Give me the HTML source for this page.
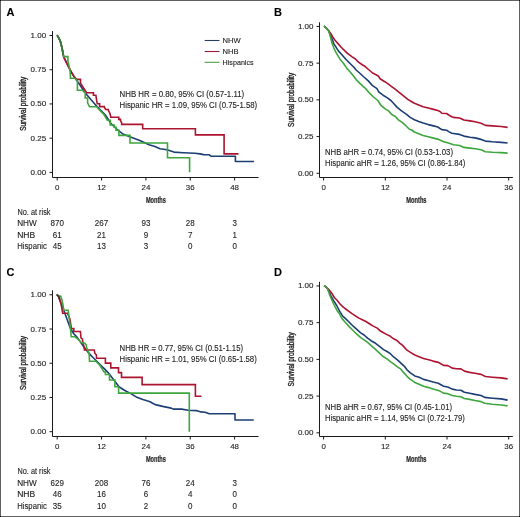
<!DOCTYPE html><html><head><meta charset="utf-8"><style>html,body{margin:0;padding:0;background:#fff;}body{width:520px;height:517px;overflow:hidden;}svg{display:block;will-change:transform;}text{font-family:"Liberation Sans", sans-serif;fill:#1e1e1e;stroke:#1e1e1e;stroke-width:0.12px;}</style></head><body>
<svg width="520" height="517" viewBox="0 0 520 517">
<rect x="0" y="0" width="520" height="517" fill="#fff"/>
<rect x="0.5" y="0.5" width="519" height="516" fill="none" stroke="#606060" stroke-width="1"/>
<path d="M0,0h1v1h-1z M519,0h1v1h-1z M0,516h1v1h-1z M519,516h1v1h-1z" fill="#151515"/>
<text x="6.5" y="16.1" font-size="11" font-weight="bold" style="fill:#000">A</text>
<path d="M52.5,31 V177.5 H258.5" fill="none" stroke="#1a1a1a" stroke-width="1"/>
<path d="M49.5,35.5 H52.5" stroke="#1a1a1a" stroke-width="1"/>
<text x="46.2" y="38.0" font-size="7.9" text-anchor="end" textLength="15.57" lengthAdjust="spacingAndGlyphs">1.00</text>
<path d="M49.5,69.725 H52.5" stroke="#1a1a1a" stroke-width="1"/>
<text x="46.2" y="72.22" font-size="7.9" text-anchor="end" textLength="15.57" lengthAdjust="spacingAndGlyphs">0.75</text>
<path d="M49.5,103.95 H52.5" stroke="#1a1a1a" stroke-width="1"/>
<text x="46.2" y="106.45" font-size="7.9" text-anchor="end" textLength="15.57" lengthAdjust="spacingAndGlyphs">0.50</text>
<path d="M49.5,138.175 H52.5" stroke="#1a1a1a" stroke-width="1"/>
<text x="46.2" y="140.68" font-size="7.9" text-anchor="end" textLength="15.57" lengthAdjust="spacingAndGlyphs">0.25</text>
<path d="M49.5,172.4 H52.5" stroke="#1a1a1a" stroke-width="1"/>
<text x="46.2" y="174.9" font-size="7.9" text-anchor="end" textLength="15.57" lengthAdjust="spacingAndGlyphs">0.00</text>
<path d="M57.2,177.5 V180.5" stroke="#1a1a1a" stroke-width="1"/>
<text x="57.2" y="189.8" font-size="7.9" text-anchor="middle" textLength="4.39" lengthAdjust="spacingAndGlyphs">0</text>
<path d="M101.55,177.5 V180.5" stroke="#1a1a1a" stroke-width="1"/>
<text x="101.55" y="189.8" font-size="7.9" text-anchor="middle" textLength="8.78" lengthAdjust="spacingAndGlyphs">12</text>
<path d="M145.9,177.5 V180.5" stroke="#1a1a1a" stroke-width="1"/>
<text x="145.9" y="189.8" font-size="7.9" text-anchor="middle" textLength="8.78" lengthAdjust="spacingAndGlyphs">24</text>
<path d="M190.25,177.5 V180.5" stroke="#1a1a1a" stroke-width="1"/>
<text x="190.25" y="189.8" font-size="7.9" text-anchor="middle" textLength="8.78" lengthAdjust="spacingAndGlyphs">36</text>
<path d="M234.6,177.5 V180.5" stroke="#1a1a1a" stroke-width="1"/>
<text x="234.6" y="189.8" font-size="7.9" text-anchor="middle" textLength="8.78" lengthAdjust="spacingAndGlyphs">48</text>
<text x="155.9" y="202.6" font-size="9" text-anchor="middle" textLength="20.0" lengthAdjust="spacingAndGlyphs" font-weight="bold" style="stroke-width:0.2px">Months</text>
<text transform="translate(25.8,103.8) rotate(-90)" font-size="8.4" text-anchor="middle" textLength="54" lengthAdjust="spacingAndGlyphs" style="stroke-width:0.35px">Survival probability</text>
<text x="119.6" y="96.8" font-size="8.4" textLength="124.6" lengthAdjust="spacingAndGlyphs">NHB HR = 0.80, 95% CI (0.57-1.11)</text>
<text x="119.6" y="108.0" font-size="8.4" textLength="137.6" lengthAdjust="spacingAndGlyphs">Hispanic HR = 1.09, 95% CI (0.75-1.58)</text>
<text x="17.5" y="214.9" font-size="8.4" textLength="33" lengthAdjust="spacingAndGlyphs">No. at risk</text>
<text x="17.2" y="226.4" font-size="8.4" textLength="19.6" lengthAdjust="spacingAndGlyphs">NHW</text>
<text x="57.2" y="226.4" font-size="8.5" text-anchor="middle" textLength="13.34" lengthAdjust="spacingAndGlyphs">870</text>
<text x="101.5" y="226.4" font-size="8.5" text-anchor="middle" textLength="13.34" lengthAdjust="spacingAndGlyphs">267</text>
<text x="145.9" y="226.4" font-size="8.5" text-anchor="middle" textLength="8.9" lengthAdjust="spacingAndGlyphs">93</text>
<text x="190.2" y="226.4" font-size="8.5" text-anchor="middle" textLength="8.9" lengthAdjust="spacingAndGlyphs">28</text>
<text x="234.6" y="226.4" font-size="8.5" text-anchor="middle" textLength="4.45" lengthAdjust="spacingAndGlyphs">3</text>
<text x="17.2" y="237.85" font-size="8.4" textLength="18.0" lengthAdjust="spacingAndGlyphs">NHB</text>
<text x="57.2" y="237.85" font-size="8.5" text-anchor="middle" textLength="8.9" lengthAdjust="spacingAndGlyphs">61</text>
<text x="101.5" y="237.85" font-size="8.5" text-anchor="middle" textLength="8.9" lengthAdjust="spacingAndGlyphs">21</text>
<text x="145.9" y="237.85" font-size="8.5" text-anchor="middle" textLength="4.45" lengthAdjust="spacingAndGlyphs">9</text>
<text x="190.2" y="237.85" font-size="8.5" text-anchor="middle" textLength="4.45" lengthAdjust="spacingAndGlyphs">7</text>
<text x="234.6" y="237.85" font-size="8.5" text-anchor="middle" textLength="4.45" lengthAdjust="spacingAndGlyphs">1</text>
<text x="17.2" y="249.3" font-size="8.4" textLength="29.6" lengthAdjust="spacingAndGlyphs">Hispanic</text>
<text x="57.2" y="249.3" font-size="8.5" text-anchor="middle" textLength="8.9" lengthAdjust="spacingAndGlyphs">45</text>
<text x="101.5" y="249.3" font-size="8.5" text-anchor="middle" textLength="8.9" lengthAdjust="spacingAndGlyphs">13</text>
<text x="145.9" y="249.3" font-size="8.5" text-anchor="middle" textLength="4.45" lengthAdjust="spacingAndGlyphs">3</text>
<text x="190.2" y="249.3" font-size="8.5" text-anchor="middle" textLength="4.45" lengthAdjust="spacingAndGlyphs">0</text>
<text x="234.6" y="249.3" font-size="8.5" text-anchor="middle" textLength="4.45" lengthAdjust="spacingAndGlyphs">0</text>
<path d="M204.7,40.5 H219.5" stroke="#273f62" stroke-width="1.1"/>
<text x="222.6" y="43.1" font-size="7.6">NHW</text>
<path d="M204.7,51.5 H219.5" stroke="#9a1d36" stroke-width="1.1"/>
<text x="222.6" y="53.8" font-size="7.6">NHB</text>
<path d="M204.7,62.3 H219.5" stroke="#4c9c4c" stroke-width="1.1"/>
<text x="222.6" y="64.6" font-size="7.6" textLength="31.0" lengthAdjust="spacingAndGlyphs">Hispanics</text>
<polyline points="57.2,35.4 58.6,37.6 60.1,40.6 61.9,47.4 63.6,56.4 67.0,63.5 70.0,70.0 73.0,75.0 76.0,79.5 80.0,85.0 84.7,92.2 90.0,98.5 97.2,106.8 101.0,110.6 105.0,114.5 108.0,119.0 110.8,123.2 116.6,129.0 122.4,133.7 130.5,137.1 139.8,140.6 149.1,144.7 154.9,146.4 160.0,148.7 167.0,149.8 173.9,152.1 183.2,152.7 194.8,153.3 200.0,153.9 203.5,154.6 209.3,154.8 211.0,156.2 235.4,156.2 235.4,161.5 254.0,161.5" fill="none" stroke="#1d3e74" stroke-width="1.6" stroke-linejoin="round"/>
<path d="M57.2,35.4 L58.6,37.6 L60.1,40.6 L61.9,47.4 L63.6,56.4 L63.9,57.7 L67.7,65.5 L70.8,70.9 L73.9,76.3 L76.6,79.4 H80.5 V83.3 L84,88.7 L86.6,92.7 H93.4 V95.3 H95.9 L96.7,100.8 L97.3,103.7 H99.6 V106.6 H104.3 V107.2 L105.7,109.5 H108.3 V110.4 L109.8,113 L110.7,116.5 V117.3 H118.8 V119.4 H120.5 V120.5 L121.7,122.9 V124.4 H142.7 V128.8 H195.4 V134.9 H224.1 V153.9 H238.5" fill="none" stroke="#ad1430" stroke-width="1.6"/>
<path d="M57.2,35.4 L58.6,37.6 L60.1,40.6 L61.9,47.4 L63.6,56.6 H67.9 V61 L70,70 L70.4,76.3 V78.2 H74.7 L77.4,80.6 V90.3 H82.3 L85.2,92.7 V98 H87.6 V102.9 L89.5,106.8 H96.8 L100.1,110.6 L104,114.5 L107.3,120.3 H110.2 V125 H114.3 V127.3 H116 V130.2 H118.9 V135.4 H130 V143 H167.5 V157.7 H189.6 V172.2" fill="none" stroke="#3ea63e" stroke-width="1.6"/>
<path d="M57.2,35.4 L58.6,37.6 L60.1,40.6 L61.9,47.4 L63.2,54.2" fill="none" stroke="#3a7a3c" stroke-width="1.7" stroke-linecap="round"/>
<text x="274.1" y="16.0" font-size="11" font-weight="bold" style="fill:#000">B</text>
<path d="M319.5,22.3 V177.5 H512.9" fill="none" stroke="#1a1a1a" stroke-width="1"/>
<path d="M316.5,26.45 H319.5" stroke="#1a1a1a" stroke-width="1"/>
<text x="313.5" y="28.95" font-size="7.9" text-anchor="end" textLength="15.57" lengthAdjust="spacingAndGlyphs">1.00</text>
<path d="M316.5,63.16 H319.5" stroke="#1a1a1a" stroke-width="1"/>
<text x="313.5" y="65.66" font-size="7.9" text-anchor="end" textLength="15.57" lengthAdjust="spacingAndGlyphs">0.75</text>
<path d="M316.5,99.88 H319.5" stroke="#1a1a1a" stroke-width="1"/>
<text x="313.5" y="102.38" font-size="7.9" text-anchor="end" textLength="15.57" lengthAdjust="spacingAndGlyphs">0.50</text>
<path d="M316.5,136.59 H319.5" stroke="#1a1a1a" stroke-width="1"/>
<text x="313.5" y="139.09" font-size="7.9" text-anchor="end" textLength="15.57" lengthAdjust="spacingAndGlyphs">0.25</text>
<path d="M316.5,173.3 H319.5" stroke="#1a1a1a" stroke-width="1"/>
<text x="313.5" y="175.8" font-size="7.9" text-anchor="end" textLength="15.57" lengthAdjust="spacingAndGlyphs">0.00</text>
<path d="M323.6,177.5 V180.5" stroke="#1a1a1a" stroke-width="1"/>
<text x="323.6" y="189.6" font-size="7.9" text-anchor="middle" textLength="4.39" lengthAdjust="spacingAndGlyphs">0</text>
<path d="M385.3,177.5 V180.5" stroke="#1a1a1a" stroke-width="1"/>
<text x="385.3" y="189.6" font-size="7.9" text-anchor="middle" textLength="8.78" lengthAdjust="spacingAndGlyphs">12</text>
<path d="M447.0,177.5 V180.5" stroke="#1a1a1a" stroke-width="1"/>
<text x="447.0" y="189.6" font-size="7.9" text-anchor="middle" textLength="8.78" lengthAdjust="spacingAndGlyphs">24</text>
<path d="M508.7,177.5 V180.5" stroke="#1a1a1a" stroke-width="1"/>
<text x="508.7" y="189.6" font-size="7.9" text-anchor="middle" textLength="8.78" lengthAdjust="spacingAndGlyphs">36</text>
<text x="416.4" y="202.7" font-size="9" text-anchor="middle" textLength="20.3" lengthAdjust="spacingAndGlyphs" font-weight="bold" style="stroke-width:0.2px">Months</text>
<text transform="translate(293.6,99.9) rotate(-90)" font-size="8.4" text-anchor="middle" textLength="54" lengthAdjust="spacingAndGlyphs" style="stroke-width:0.35px">Survival probability</text>
<text x="325.0" y="154.5" font-size="8.4" textLength="128.0" lengthAdjust="spacingAndGlyphs">NHB aHR = 0.74, 95% CI (0.53-1.03)</text>
<text x="325.0" y="165.6" font-size="8.4" textLength="140.4" lengthAdjust="spacingAndGlyphs">Hispanic aHR = 1.26, 95% CI (0.86-1.84)</text>
<polyline points="324.1,26.1 326.2,28.0 328.3,30.3 329.9,34.0 331.0,36.5 332.2,39.2 333.9,43.8 336.0,47.2 338.5,51.1 341.7,54.5 345.8,59.2 349.8,63.2 353.9,67.3 356.1,70.0 359.6,73.0 363.9,77.0 368.3,80.9 372.6,85.7 377.0,88.7 378.7,91.8 383.1,95.2 387.4,97.9 390.9,100.5 393.7,103.5 397.2,107.4 401.5,110.9 405.9,113.9 410.2,117.4 414.4,119.7 418.7,121.4 423.1,123.0 428.3,124.6 433.5,125.9 437.8,127.0 440.0,128.5 441.8,129.6 446.6,130.2 448.7,131.6 451.8,133.3 453.5,133.5 459.6,134.4 463.9,136.1 470.0,137.2 475.2,137.9 481.1,139.4 485.4,141.1 492.4,141.8 501.1,142.4 507.6,143.0" fill="none" stroke="#1d3e74" stroke-width="1.6" stroke-linejoin="round"/>
<polyline points="324.1,26.1 326.2,28.0 328.3,30.3 330.0,32.5 331.5,34.7 333.2,37.8 335.0,40.3 337.8,43.4 341.2,47.2 345.1,51.1 347.5,53.3 352.2,56.8 355.6,59.2 358.5,62.1 362.6,65.0 364.9,66.3 369.1,70.0 372.6,73.0 377.0,75.2 378.7,76.5 380.0,78.7 384.8,81.7 387.8,83.7 391.3,86.3 394.8,88.9 399.1,92.4 403.5,95.9 407.8,99.4 411.3,101.5 414.4,103.3 418.7,105.0 423.1,106.7 428.3,108.1 433.5,109.4 437.8,110.5 440.0,111.5 441.8,113.3 446.6,113.5 448.7,115.0 451.8,116.8 453.5,117.4 459.6,118.0 463.9,120.0 470.0,120.9 475.2,121.7 481.1,123.3 485.4,125.4 492.4,125.9 501.1,126.5 507.6,127.4" fill="none" stroke="#ad1430" stroke-width="1.6" stroke-linejoin="round"/>
<polyline points="324.1,26.1 326.2,28.0 328.3,30.3 329.4,33.0 330.1,35.7 331.8,42.4 333.6,47.2 335.3,51.1 336.5,53.3 340.0,59.2 343.4,63.2 346.9,68.4 350.0,71.7 353.5,76.1 356.1,79.6 360.4,83.9 364.8,87.8 369.1,92.6 373.5,97.0 377.8,100.5 380.5,104.8 384.8,108.6 388.5,110.9 392.0,114.8 395.4,116.5 398.1,119.6 402.4,122.6 405.9,125.7 409.4,129.2 411.7,130.0 414.4,132.0 418.7,133.7 423.1,135.5 428.3,136.8 433.5,138.1 438.7,139.4 443.1,141.4 450.0,143.5 453.5,144.8 459.6,145.5 463.9,147.4 470.0,148.1 475.2,148.7 481.1,149.8 485.4,151.7 492.4,152.2 501.1,152.6 507.6,153.1" fill="none" stroke="#3ea63e" stroke-width="1.6" stroke-linejoin="round"/>
<text x="6.5" y="275.6" font-size="11" font-weight="bold" style="fill:#000">C</text>
<path d="M52.5,290.3 V436.5 H258.5" fill="none" stroke="#1a1a1a" stroke-width="1"/>
<path d="M49.5,294.8 H52.5" stroke="#1a1a1a" stroke-width="1"/>
<text x="46.2" y="297.3" font-size="7.9" text-anchor="end" textLength="15.57" lengthAdjust="spacingAndGlyphs">1.00</text>
<path d="M49.5,329.02500000000003 H52.5" stroke="#1a1a1a" stroke-width="1"/>
<text x="46.2" y="331.53" font-size="7.9" text-anchor="end" textLength="15.57" lengthAdjust="spacingAndGlyphs">0.75</text>
<path d="M49.5,363.25 H52.5" stroke="#1a1a1a" stroke-width="1"/>
<text x="46.2" y="365.75" font-size="7.9" text-anchor="end" textLength="15.57" lengthAdjust="spacingAndGlyphs">0.50</text>
<path d="M49.5,397.475 H52.5" stroke="#1a1a1a" stroke-width="1"/>
<text x="46.2" y="399.98" font-size="7.9" text-anchor="end" textLength="15.57" lengthAdjust="spacingAndGlyphs">0.25</text>
<path d="M49.5,431.70000000000005 H52.5" stroke="#1a1a1a" stroke-width="1"/>
<text x="46.2" y="434.2" font-size="7.9" text-anchor="end" textLength="15.57" lengthAdjust="spacingAndGlyphs">0.00</text>
<path d="M57.2,436.5 V439.5" stroke="#1a1a1a" stroke-width="1"/>
<text x="57.2" y="449.1" font-size="7.9" text-anchor="middle" textLength="4.39" lengthAdjust="spacingAndGlyphs">0</text>
<path d="M101.55,436.5 V439.5" stroke="#1a1a1a" stroke-width="1"/>
<text x="101.55" y="449.1" font-size="7.9" text-anchor="middle" textLength="8.78" lengthAdjust="spacingAndGlyphs">12</text>
<path d="M145.9,436.5 V439.5" stroke="#1a1a1a" stroke-width="1"/>
<text x="145.9" y="449.1" font-size="7.9" text-anchor="middle" textLength="8.78" lengthAdjust="spacingAndGlyphs">24</text>
<path d="M190.25,436.5 V439.5" stroke="#1a1a1a" stroke-width="1"/>
<text x="190.25" y="449.1" font-size="7.9" text-anchor="middle" textLength="8.78" lengthAdjust="spacingAndGlyphs">36</text>
<path d="M234.6,436.5 V439.5" stroke="#1a1a1a" stroke-width="1"/>
<text x="234.6" y="449.1" font-size="7.9" text-anchor="middle" textLength="8.78" lengthAdjust="spacingAndGlyphs">48</text>
<text x="155.9" y="461.9" font-size="9" text-anchor="middle" textLength="20.0" lengthAdjust="spacingAndGlyphs" font-weight="bold" style="stroke-width:0.2px">Months</text>
<text transform="translate(25.8,363.1) rotate(-90)" font-size="8.4" text-anchor="middle" textLength="54" lengthAdjust="spacingAndGlyphs" style="stroke-width:0.35px">Survival probability</text>
<text x="119.6" y="350.6" font-size="8.4" textLength="123.5" lengthAdjust="spacingAndGlyphs">NHB HR = 0.77, 95% CI (0.51-1.15)</text>
<text x="119.6" y="361.7" font-size="8.4" textLength="137.2" lengthAdjust="spacingAndGlyphs">Hispanic HR = 1.01, 95% CI (0.65-1.58)</text>
<text x="17.5" y="474.20000000000005" font-size="8.4" textLength="33" lengthAdjust="spacingAndGlyphs">No. at risk</text>
<text x="17.2" y="485.7" font-size="8.4" textLength="19.6" lengthAdjust="spacingAndGlyphs">NHW</text>
<text x="57.2" y="485.7" font-size="8.5" text-anchor="middle" textLength="13.34" lengthAdjust="spacingAndGlyphs">629</text>
<text x="101.5" y="485.7" font-size="8.5" text-anchor="middle" textLength="13.34" lengthAdjust="spacingAndGlyphs">208</text>
<text x="145.9" y="485.7" font-size="8.5" text-anchor="middle" textLength="8.9" lengthAdjust="spacingAndGlyphs">76</text>
<text x="190.2" y="485.7" font-size="8.5" text-anchor="middle" textLength="8.9" lengthAdjust="spacingAndGlyphs">24</text>
<text x="234.6" y="485.7" font-size="8.5" text-anchor="middle" textLength="4.45" lengthAdjust="spacingAndGlyphs">3</text>
<text x="17.2" y="497.15" font-size="8.4" textLength="18.0" lengthAdjust="spacingAndGlyphs">NHB</text>
<text x="57.2" y="497.15" font-size="8.5" text-anchor="middle" textLength="8.9" lengthAdjust="spacingAndGlyphs">46</text>
<text x="101.5" y="497.15" font-size="8.5" text-anchor="middle" textLength="8.9" lengthAdjust="spacingAndGlyphs">16</text>
<text x="145.9" y="497.15" font-size="8.5" text-anchor="middle" textLength="4.45" lengthAdjust="spacingAndGlyphs">6</text>
<text x="190.2" y="497.15" font-size="8.5" text-anchor="middle" textLength="4.45" lengthAdjust="spacingAndGlyphs">4</text>
<text x="234.6" y="497.15" font-size="8.5" text-anchor="middle" textLength="4.45" lengthAdjust="spacingAndGlyphs">0</text>
<text x="17.2" y="508.6" font-size="8.4" textLength="29.6" lengthAdjust="spacingAndGlyphs">Hispanic</text>
<text x="57.2" y="508.6" font-size="8.5" text-anchor="middle" textLength="8.9" lengthAdjust="spacingAndGlyphs">35</text>
<text x="101.5" y="508.6" font-size="8.5" text-anchor="middle" textLength="8.9" lengthAdjust="spacingAndGlyphs">10</text>
<text x="145.9" y="508.6" font-size="8.5" text-anchor="middle" textLength="4.45" lengthAdjust="spacingAndGlyphs">2</text>
<text x="190.2" y="508.6" font-size="8.5" text-anchor="middle" textLength="4.45" lengthAdjust="spacingAndGlyphs">0</text>
<text x="234.6" y="508.6" font-size="8.5" text-anchor="middle" textLength="4.45" lengthAdjust="spacingAndGlyphs">0</text>
<polyline points="57.1,294.8 58.5,296.2 60.9,303.2 64.3,311.7 67.5,320.5 70.5,328.7 74.0,334.0 77.2,337.4 79.8,341.1 84.0,347.0 89.0,353.4 93.0,357.5 96.8,361.2 100.0,364.5 104.5,368.9 108.1,372.6 113.5,379.4 119.0,386.8 124.4,390.2 130.8,393.6 136.2,396.9 142.9,399.6 150.0,401.7 153.0,403.5 156.3,404.9 162.7,406.4 171.2,408.1 173.3,409.1 181.7,409.1 188.1,410.2 196.5,410.6 200.8,411.9 205.0,412.3 209.2,413.8 235.0,413.8 235.0,420.0 253.7,420.0" fill="none" stroke="#1d3e74" stroke-width="1.6" stroke-linejoin="round"/>
<path d="M57.1,294.8 L58.5,296.2 L60.9,303.2 L62.7,313.2 H67.5 L69.9,319 L71.4,328.6 H73.8 V331.5 H80.4 L81,337.9 L82.4,339.2 L83.1,343.3 L84.1,347.3 L84.4,350 H94.2 L94.9,353.4 L96.3,354.8 L96.6,358.2 H105.4 V363.1 H110.8 V367.9 H118.5 V372.6 H121.5 V377.4 H142.1 V384.6 H195.4 V396.2 H201.5" fill="none" stroke="#ad1430" stroke-width="1.6"/>
<path d="M57.1,294.8 L58.5,296 H60.6 L61.6,298.7 L63,304.9 L63.7,309.3 V310.2 H68.2 L70.5,328.7 L71.2,336.8 H75.1 L78.2,339.5 L81.3,342.6 L84.8,343.3 L86.1,344.6 L86.8,348 L88.2,351.4 L89.2,354.1 L89.5,361.2 H96 L100,365.5 L104.1,371.9 H105.4 V374.5 H109.5 V380 H114.9 V386.8 H118.6 V393.1 H189.3 V431.8" fill="none" stroke="#3ea63e" stroke-width="1.6"/>
<path d="M57.1,294.8 L58.5,296.2 L59.6,298.8" fill="none" stroke="#4a3030" stroke-width="1.7" stroke-linecap="round"/>
<text x="274.1" y="275.6" font-size="11" font-weight="bold" style="fill:#000">D</text>
<path d="M319.5,281.8 V436.5 H512.9" fill="none" stroke="#1a1a1a" stroke-width="1"/>
<path d="M316.5,285.95 H319.5" stroke="#1a1a1a" stroke-width="1"/>
<text x="313.5" y="288.45" font-size="7.9" text-anchor="end" textLength="15.57" lengthAdjust="spacingAndGlyphs">1.00</text>
<path d="M316.5,322.66 H319.5" stroke="#1a1a1a" stroke-width="1"/>
<text x="313.5" y="325.16" font-size="7.9" text-anchor="end" textLength="15.57" lengthAdjust="spacingAndGlyphs">0.75</text>
<path d="M316.5,359.38 H319.5" stroke="#1a1a1a" stroke-width="1"/>
<text x="313.5" y="361.88" font-size="7.9" text-anchor="end" textLength="15.57" lengthAdjust="spacingAndGlyphs">0.50</text>
<path d="M316.5,396.09 H319.5" stroke="#1a1a1a" stroke-width="1"/>
<text x="313.5" y="398.59" font-size="7.9" text-anchor="end" textLength="15.57" lengthAdjust="spacingAndGlyphs">0.25</text>
<path d="M316.5,432.8 H319.5" stroke="#1a1a1a" stroke-width="1"/>
<text x="313.5" y="435.3" font-size="7.9" text-anchor="end" textLength="15.57" lengthAdjust="spacingAndGlyphs">0.00</text>
<path d="M323.6,436.5 V439.5" stroke="#1a1a1a" stroke-width="1"/>
<text x="323.6" y="449.1" font-size="7.9" text-anchor="middle" textLength="4.39" lengthAdjust="spacingAndGlyphs">0</text>
<path d="M385.3,436.5 V439.5" stroke="#1a1a1a" stroke-width="1"/>
<text x="385.3" y="449.1" font-size="7.9" text-anchor="middle" textLength="8.78" lengthAdjust="spacingAndGlyphs">12</text>
<path d="M447.0,436.5 V439.5" stroke="#1a1a1a" stroke-width="1"/>
<text x="447.0" y="449.1" font-size="7.9" text-anchor="middle" textLength="8.78" lengthAdjust="spacingAndGlyphs">24</text>
<path d="M508.7,436.5 V439.5" stroke="#1a1a1a" stroke-width="1"/>
<text x="508.7" y="449.1" font-size="7.9" text-anchor="middle" textLength="8.78" lengthAdjust="spacingAndGlyphs">36</text>
<text x="416.4" y="462.2" font-size="9" text-anchor="middle" textLength="20.3" lengthAdjust="spacingAndGlyphs" font-weight="bold" style="stroke-width:0.2px">Months</text>
<text transform="translate(293.6,359.4) rotate(-90)" font-size="8.4" text-anchor="middle" textLength="54" lengthAdjust="spacingAndGlyphs" style="stroke-width:0.35px">Survival probability</text>
<text x="325.0" y="409.8" font-size="8.4" textLength="127.0" lengthAdjust="spacingAndGlyphs">NHB aHR = 0.67, 95% CI (0.45-1.01)</text>
<text x="325.0" y="421.0" font-size="8.4" textLength="139.9" lengthAdjust="spacingAndGlyphs">Hispanic aHR = 1.14, 95% CI (0.72-1.79)</text>
<polyline points="324.1,285.6 325.8,286.8 327.2,288.2 328.8,291.0 331.1,296.1 333.6,300.6 336.7,305.5 339.6,311.1 342.7,316.2 345.0,318.1 348.5,321.5 352.0,325.0 355.4,328.1 360.7,332.8 364.1,335.0 367.6,338.1 371.1,340.7 375.5,343.3 378.9,345.9 383.5,349.6 387.0,351.5 390.4,353.7 393.9,357.2 397.4,359.8 400.9,363.1 404.4,366.3 407.0,369.8 410.4,372.8 414.8,375.9 419.1,377.2 423.5,379.4 428.7,380.7 433.1,382.0 438.3,383.3 441.8,385.2 443.5,386.3 447.8,387.0 452.2,389.1 456.5,390.0 460.9,390.2 464.4,392.2 469.6,393.3 475.0,394.4 481.1,395.5 484.6,397.4 492.4,398.2 501.1,398.9 507.6,400.1" fill="none" stroke="#1d3e74" stroke-width="1.6" stroke-linejoin="round"/>
<polyline points="324.1,285.6 325.8,286.8 327.2,288.2 329.0,289.8 330.4,291.6 332.5,294.3 334.3,297.5 337.1,300.3 339.8,303.8 343.0,306.9 345.0,308.5 348.5,311.1 352.0,313.7 355.4,315.9 358.9,318.1 362.4,319.8 365.9,321.5 369.4,323.7 372.8,325.9 377.2,328.1 380.0,330.7 383.5,332.8 387.0,334.6 390.4,336.3 393.1,338.5 396.5,340.2 400.0,343.3 402.6,345.4 407.0,350.2 410.4,352.4 414.8,355.0 419.1,356.7 423.5,358.5 428.7,359.8 433.1,361.1 438.3,362.4 440.0,363.3 443.5,365.4 447.8,365.6 452.2,368.1 456.5,368.7 460.9,368.9 464.4,371.1 469.6,372.4 475.0,373.3 481.1,374.4 485.4,376.5 492.4,377.2 501.1,377.9 507.6,378.9" fill="none" stroke="#ad1430" stroke-width="1.6" stroke-linejoin="round"/>
<polyline points="324.1,285.6 325.8,286.8 327.2,288.2 328.5,291.2 329.7,295.0 331.5,299.2 333.9,304.5 337.1,310.7 338.9,312.9 342.0,318.6 345.0,322.0 348.5,325.9 352.8,330.2 356.3,333.7 360.7,337.6 364.1,339.8 367.6,342.4 372.0,346.3 375.5,349.4 380.0,353.7 383.5,356.8 387.0,358.9 390.4,361.6 393.9,364.2 397.4,366.8 400.9,369.2 403.5,372.4 407.0,376.3 410.4,379.4 414.8,382.4 419.1,384.2 423.5,386.3 428.7,387.6 433.1,388.9 440.0,391.1 443.5,393.1 447.8,393.7 452.2,395.5 456.5,396.3 460.9,396.8 464.4,398.5 469.6,399.4 475.0,400.5 481.1,401.6 484.6,403.3 492.4,404.3 501.1,405.0 507.6,405.9" fill="none" stroke="#3ea63e" stroke-width="1.6" stroke-linejoin="round"/>
</svg></body></html>
